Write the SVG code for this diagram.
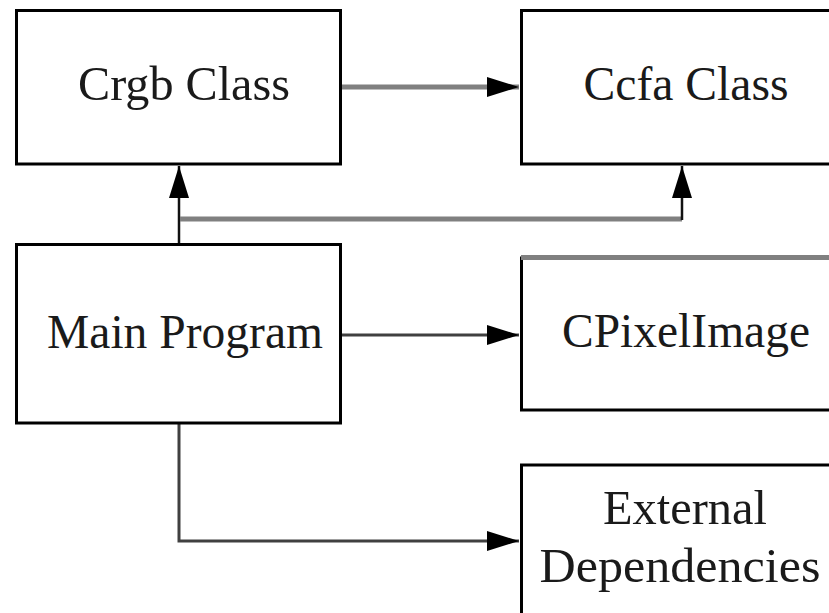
<svg xmlns="http://www.w3.org/2000/svg" width="829" height="613" viewBox="0 0 829 613">
<style>
.box{fill:#fff;stroke:#000;stroke-width:3}
.lbl{font-family:'Liberation Serif','Times New Roman',Times,'DejaVu Serif Condensed','DejaVu Serif',serif;font-size:48px;fill:#1a1a1a;text-anchor:middle}
.gray{fill:none;stroke:#808080;stroke-width:5}
.dark{fill:none;stroke:#404040;stroke-width:3}
.thin{fill:none;stroke:#111;stroke-width:2.5}
</style>
<defs>
<marker id="ah" markerUnits="userSpaceOnUse" markerWidth="34" markerHeight="24" refX="32" refY="12" orient="auto">
<path d="M0,2 L32,12 L0,22 Z" fill="#000"/>
</marker>
</defs>
<rect width="829" height="613" fill="#fff"/>
<g id="connectors">
<line class="gray" x1="342" y1="87" x2="519" y2="87" marker-end="url(#ah)"/>
<line class="thin" x1="179" y1="245" x2="179" y2="166" marker-end="url(#ah)"/>
<line class="gray" x1="180" y1="219" x2="682" y2="219"/>
<line class="thin" x1="682" y1="220" x2="682" y2="166" marker-end="url(#ah)"/>
<line class="dark" x1="342" y1="335" x2="519" y2="335" marker-end="url(#ah)"/>
<polyline class="dark" points="179,424 179,541 519,541" marker-end="url(#ah)"/>
</g>
<g id="crgb">
<rect class="box" x="16.5" y="10.5" width="324" height="153.5"/>
<text class="lbl" x="184" y="100" font-family="Liberation Serif, serif" textLength="212" lengthAdjust="spacingAndGlyphs">Crgb Class</text>
</g>
<g id="ccfa">
<rect class="box" x="521.5" y="10.5" width="324" height="153.5"/>
<text class="lbl" x="686" y="100" font-family="Liberation Serif, serif" textLength="205" lengthAdjust="spacingAndGlyphs">Ccfa Class</text>
</g>
<g id="main">
<rect class="box" x="16.5" y="244.5" width="324" height="178.5"/>
<text class="lbl" x="185" y="348" font-family="Liberation Serif, serif" textLength="276" lengthAdjust="spacingAndGlyphs">Main Program</text>
</g>
<g id="cpixel">
<rect class="box" x="521.5" y="258" width="324" height="152"/>
<line x1="521" y1="257.5" x2="829" y2="257.5" stroke="#808080" stroke-width="5"/>
<text class="lbl" x="686" y="347" font-family="Liberation Serif, serif" textLength="248" lengthAdjust="spacingAndGlyphs">CPixelImage</text>
</g>
<g id="external">
<rect class="box" x="521.5" y="465" width="324" height="160"/>
<text class="lbl" x="685" y="524" font-family="Liberation Serif, serif" textLength="164" lengthAdjust="spacingAndGlyphs">External</text>
<text class="lbl" x="680" y="582" font-family="Liberation Serif, serif" textLength="281" lengthAdjust="spacingAndGlyphs">Dependencies</text>
</g>
</svg>
